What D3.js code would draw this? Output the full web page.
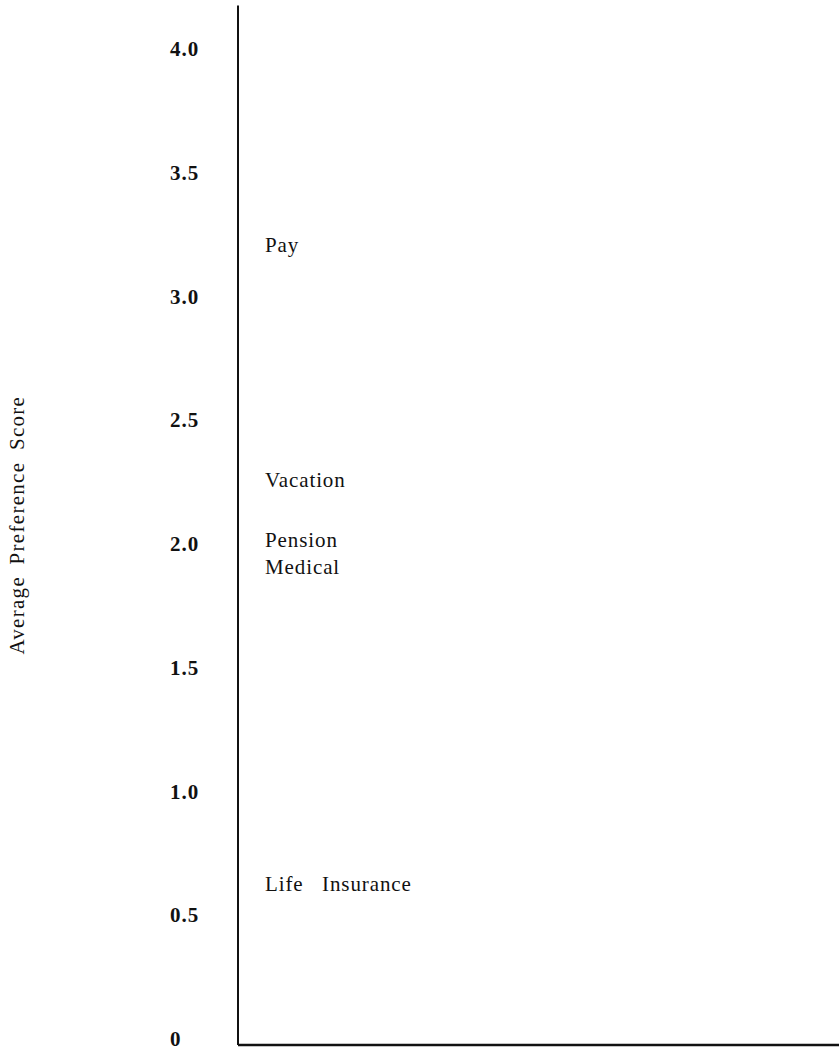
<!DOCTYPE html>
<html>

<head>
    <title>Average Preference Score</title>
    <script src="https://d3js.org/d3.v7.min.js"></script>
    <style>
        body { margin: 0; background: #fff; }
        text { font-family: "Liberation Serif", "DejaVu Serif", serif; fill: #111; }
    </style>
</head>

<body>

    <svg width="839" height="1050" id="mainSvg" class="svgs"></svg>
    <script>

        // data
        const benefits = ["Pay", "Vacation", "Pension", "Medical", "Life   Insurance"];
        const scores = [3.21, 2.26, 2.02, 1.91, 0.63];
        const tickValues = [0, 0.5, 1.0, 1.5, 2.0, 2.5, 3.0, 3.5, 4.0];
        const tickLabels = ["0", "0.5", "1.0", "1.5", "2.0", "2.5", "3.0", "3.5", "4.0"];
        const axisTitle = "Average Preference Score";
        const axisTop = 4.18;

        const mainSvg = d3.select('.svgs')
        const mainWidth = +mainSvg.attr("width");
        const mainHeight = +mainSvg.attr("height");
        const margin = {
            top: 50,
            right: 0,
            bottom: 10,
            left: 238
        };
        const innerWidth = mainWidth - margin.left - margin.right;
        const innerHeight = mainHeight - margin.bottom - margin.top;

        const g = mainSvg.append("g")
            .attr("id", "mainGroup")
            .attr("transform", `translate(${margin.left}, ${margin.top})`);

        const yScale = d3.scaleLinear()
            .domain([0, 4])
            .range([innerHeight, 0]);

        const xScale = d3.scaleLinear()
            .domain([0, 1])
            .range([0, innerWidth]);

        // tick labels, left aligned like the original print
        const yAxis = d3.axisLeft(yScale)
            .tickValues(tickValues)
            .tickFormat((d, i) => tickLabels[i])
            .tickSize(0)
            .tickPadding(68);

        const yAxisGroup = g.append("g").call(yAxis);
        yAxisGroup.select(".domain").remove();
        yAxisGroup.selectAll("text")
            .attr("text-anchor", "start")
            .attr("dy", "0.27em")
            .style("font-family", "'Liberation Serif', serif")
            .style("font-size", "21px")
            .style("font-weight", "bold")
            .style("letter-spacing", "1px")
            .attr("fill", "#111");

        // vertical axis line and base line (base sits a hair under the 0 label)
        const baseY = yScale(0) + 5;

        g.append("line")
            .attr("x1", xScale(0)).attr("x2", xScale(0))
            .attr("y1", yScale(axisTop)).attr("y2", baseY)
            .attr("stroke", "#111")
            .attr("stroke-width", 2);

        g.append("line")
            .attr("x1", xScale(0)).attr("x2", xScale(1))
            .attr("y1", baseY).attr("y2", baseY)
            .attr("stroke", "#111")
            .attr("stroke-width", 2.5);

        // benefit labels placed at their score
        g.selectAll(".benefit")
            .data(benefits)
            .join("text")
            .attr("class", "benefit")
            .attr("x", xScale(0) + 27)
            .attr("y", (d, i) => yScale(scores[i]))
            .attr("dy", "0.32em")
            .style("font-size", "21px")
            .style("letter-spacing", "0.9px")
            .style("white-space", "pre")
            .text(d => d);

        // axis title
        mainSvg.append("text")
            .attr("transform", `translate(24, ${margin.top + yScale(2.08)}) rotate(-90)`)
            .attr("text-anchor", "middle")
            .style("font-size", "21px")
            .style("letter-spacing", "1.3px")
            .style("word-spacing", "5px")
            .attr("fill", "#000")
            .text(axisTitle);

    </script>
</body>

</html>
